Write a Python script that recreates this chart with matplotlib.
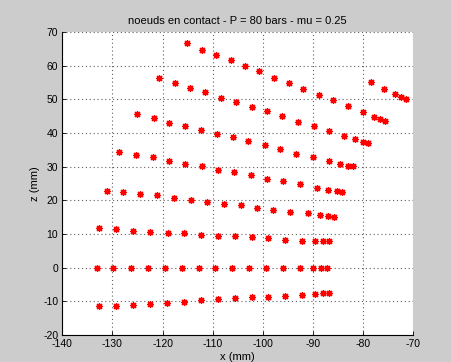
import matplotlib
matplotlib.use("Agg")
import matplotlib.pyplot as plt

# Rows of contact nodes (x in mm, z in mm)
row_m10_x = [-132.7, -129.3, -125.9, -122.5, -119.1, -115.8, -112.4, -108.9, -105.5, -102.2, -98.9, -95.5, -92.1, -89.7, -88.1, -86.9]
row_m10_z = [-11.5, -11.3, -11.1, -10.8, -10.5, -10.2, -9.7, -9.3, -9.1, -8.8, -8.6, -8.4, -8.1, -7.8, -7.6, -7.6]

row_0_x = [-133.1, -129.9, -126.4, -122.9, -119.5, -116.1, -112.7, -109.5, -106.1, -102.7, -99.3, -95.9, -92.5, -90.0, -88.5, -87.3]
row_0_z = [0, 0, 0, 0, 0, 0, 0, 0, 0, 0, 0, 0, 0, 0, 0, 0]

row_10_x = [-132.7, -129.3, -125.9, -122.5, -119.0, -115.8, -112.4, -108.9, -105.5, -102.2, -98.9, -95.6, -92.2, -89.7, -88.1, -86.9]
row_10_z = [11.7, 11.4, 10.9, 10.7, 10.4, 10.2, 9.8, 9.5, 9.3, 9.0, 8.7, 8.2, 8.0, 7.9, 7.8, 7.8]

row_20_x = [-131.1, -127.8, -124.5, -121.1, -117.7, -114.3, -111.1, -107.7, -104.4, -101.1, -97.9, -94.5, -91.0, -88.6, -87.0, -85.9]
row_20_z = [22.9, 22.5, 22.0, 21.5, 20.6, 20.1, 19.5, 19.0, 18.5, 17.7, 17.1, 16.6, 16.1, 15.7, 15.4, 15.0]

row_30_x = [-128.6, -125.4, -121.9, -118.8, -115.5, -112.2, -108.9, -105.8, -102.3, -99.1, -95.9, -92.6, -89.3, -87.0, -85.3, -84.3]
row_30_z = [34.3, 33.5, 32.8, 31.6, 30.9, 30.2, 29.1, 28.3, 27.6, 26.4, 25.6, 24.8, 23.8, 23.2, 22.7, 22.5]

row_40_x = [-125.1, -121.8, -118.8, -115.5, -112.4, -109.2, -105.9, -102.9, -99.6, -96.6, -93.3, -90.1, -86.9, -84.6, -83.1, -82.1]
row_40_z = [45.5, 44.4, 43.0, 42.0, 41.0, 39.8, 38.7, 37.6, 36.3, 35.2, 33.8, 32.8, 31.8, 30.8, 30.3, 30.1]

row_50_x = [-120.7, -117.6, -114.5, -111.5, -108.4, -105.3, -102.2, -99.1, -96.1, -92.9, -89.9, -86.8, -83.9, -81.6, -80.1, -79.0]
row_50_z = [56.3, 54.9, 53.4, 52.2, 50.4, 49.2, 47.6, 46.4, 45.0, 43.4, 42.0, 40.6, 39.2, 38.2, 37.3, 37.0]

row_60_x = [-115.2, -112.2, -109.4, -106.4, -103.5, -100.7, -97.7, -94.8, -91.9, -88.9, -86.0, -83.1, -80.1, -77.9, -76.6, -75.6]
row_60_z = [66.7, 64.8, 63.2, 61.6, 59.9, 58.3, 56.3, 54.8, 53.1, 51.3, 49.7, 47.9, 46.2, 44.9, 44.1, 43.7]

row_70_x = [-78.5, -75.8, -73.7, -72.5, -71.4]
row_70_z = [55.1, 53.1, 51.6, 50.7, 50.2]

rows_x = [row_m10_x, row_0_x, row_10_x, row_20_x, row_30_x, row_40_x, row_50_x, row_60_x, row_70_x]
rows_z = [row_m10_z, row_0_z, row_10_z, row_20_z, row_30_z, row_40_z, row_50_z, row_60_z, row_70_z]

x_ticks = [-140, -130, -120, -110, -100, -90, -80, -70]
y_ticks = [-20, -10, 0, 10, 20, 30, 40, 50, 60, 70]

title = "noeuds en contact - P = 80 bars - mu = 0.25"
xlabel = "x (mm)"
ylabel = "z (mm)"

plt.rcParams['font.family'] = ['Liberation Sans', 'DejaVu Sans']

fig = plt.figure(figsize=(4.51, 3.62), dpi=100, facecolor='#cccccc')
ax = fig.add_axes([0.1382, 0.0746, 0.7782, 0.8370])
ax.set_facecolor('white')

for xs, zs in zip(rows_x, rows_z):
    ax.plot(xs, zs, linestyle='none', marker=(8, 2, 0), color='red',
            markersize=5, markeredgewidth=0.9)

ax.set_xlim(-140, -70)
ax.set_ylim(-20, 70)
ax.set_xticks(x_ticks)
ax.set_yticks(y_ticks)
ax.set_xticklabels([str(t) for t in x_ticks], fontsize=7.5)
ax.set_yticklabels([str(t) for t in y_ticks], fontsize=7.5)
ax.grid(True, linestyle=(0, (1, 2.5)), color='#606060', linewidth=0.8)
ax.tick_params(direction='in', length=3, width=0.6, pad=3, colors='black')
for side in ['top', 'right']:
    ax.spines[side].set_visible(False)
for side in ['left', 'bottom']:
    ax.spines[side].set_linewidth(0.8)
    ax.spines[side].set_color('black')

ax.set_title(title, fontsize=8, pad=6)
ax.set_xlabel(xlabel, fontsize=8, labelpad=2)
ax.set_ylabel(ylabel, fontsize=8, labelpad=2)

fig.savefig('out.png', dpi=100, facecolor=fig.get_facecolor())
